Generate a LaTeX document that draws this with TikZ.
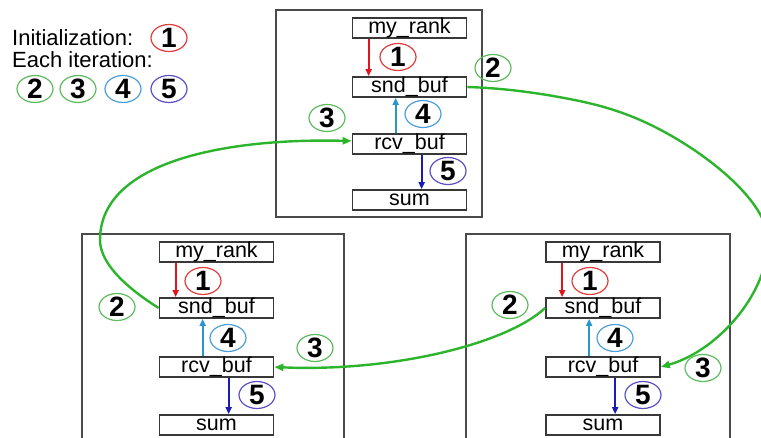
\documentclass[tikz,border=0pt]{standalone}
\usepackage{fontspec}
\setmainfont{Liberation Sans}
\usetikzlibrary{arrows.meta,shapes.geometric}

\definecolor{boxgray}{HTML}{383838}
\definecolor{framegray}{HTML}{4A4A4A}
\definecolor{linkgreen}{HTML}{2CB52C}
\definecolor{ringgreen}{HTML}{5DBB5D}
\definecolor{ringred}{HTML}{E03C3C}
\definecolor{ringblue}{HTML}{4C9ED6}
\definecolor{ringpurple}{HTML}{5A50C4}
\definecolor{arrred}{HTML}{E4141C}
\definecolor{arrlight}{HTML}{2A96CA}
\definecolor{arrdark}{HTML}{1A1AB4}

\begin{document}
\begin{tikzpicture}[x=1pt,y=-1pt,
  frame/.style={draw=framegray, line width=1.4pt},
  buf/.style={draw=boxgray, line width=1.7pt, minimum width=114pt,
    minimum height=20pt, inner sep=0pt, text height=16pt, text depth=4pt,
    font=\fontsize{21.5}{25}\selectfont},
  num/.style={ellipse, draw=#1, line width=1.2pt, minimum width=36pt,
    minimum height=27pt, inner xsep=0pt, inner ysep=-2pt,
    font=\fontsize{28}{30}\selectfont\bfseries},
  legend/.style={anchor=west, inner sep=0pt, text height=15.8pt, text depth=0pt,
    font=\fontsize{22}{25}\selectfont},
  inarrow/.style={line width=1.8pt, draw=#1, -{Triangle[length=7pt,width=6pt]}},
  link/.style={draw=linkgreen, line width=2.4pt, -{Triangle[length=9pt,width=7pt]}}
]
\useasboundingbox (0,0) rectangle (761,438);
\clip (0,0) rectangle (761,438);

% legend
\node[legend] (init) at (12,38) {Initialization:};
\node[num=ringred] (L1) at (169,38) {1};
\node[legend] (iter) at (12,60) {Each iteration:};
\node[num=ringgreen]  (L2) at (35,89)  {2};
\node[num=ringgreen]  (L3) at (78,89)  {3};
\node[num=ringblue]   (L4) at (123,89) {4};
\node[num=ringpurple] (L5) at (169,89) {5};

% process frames
\draw[frame] (276,10) rectangle (482,217);
\draw[frame] (82,234) rectangle (344,450);
\draw[frame] (466,234) rectangle (730,450);

% top process
\node[buf] (tRank) at (409.5,28)  {my\_rank};
\node[buf] (tSnd)  at (409.5,87)  {snd\_buf};
\node[buf] (tRcv)  at (409.5,144) {rcv\_buf};
\node[buf] (tSum)  at (409.5,200) {sum};

% left process
\node[buf] (lRank) at (216.5,252) {my\_rank};
\node[buf] (lSnd)  at (216.5,308) {snd\_buf};
\node[buf] (lRcv)  at (216.5,367) {rcv\_buf};
\node[buf] (lSum)  at (216.5,425) {sum};

% right process
\node[buf] (rRank) at (603,252) {my\_rank};
\node[buf] (rSnd)  at (603,308) {snd\_buf};
\node[buf] (rRcv)  at (603,367) {rcv\_buf};
\node[buf] (rSum)  at (603,425) {sum};

% local steps inside each process
\foreach \p in {t,l,r}{
  \draw[inarrow=arrred]   ([xshift=17pt]\p Rank.south west) -- ([xshift=17pt]\p Snd.north west);
  \draw[inarrow=arrlight] ([xshift=44pt]\p Rcv.north west)  -- ([xshift=44pt]\p Snd.south west);
  \draw[inarrow=arrdark]  ([xshift=70pt]\p Rcv.south west)  -- ([xshift=70pt]\p Sum.north west);
}

% step numbers, top process
\node[num=ringred]    (t1) at (398,57)  {1};
\node[num=ringgreen]  (t2) at (493,68)  {2};
\node[num=ringgreen]  (t3) at (327,118) {3};
\node[num=ringblue]   (t4) at (423,114) {4};
\node[num=ringpurple] (t5) at (448,171) {5};

% step numbers, left process
\node[num=ringred]    (l1) at (203,281) {1};
\node[num=ringgreen]  (l2) at (117,307) {2};
\node[num=ringgreen]  (l3) at (315,348) {3};
\node[num=ringblue]   (l4) at (228,338) {4};
\node[num=ringpurple] (l5) at (257,395) {5};

% step numbers, right process
\node[num=ringred]    (r1) at (590,281) {1};
\node[num=ringgreen]  (r2) at (510,305) {2};
\node[num=ringgreen]  (r3) at (703,368) {3};
\node[num=ringblue]   (r4) at (615,338) {4};
\node[num=ringpurple] (r5) at (643,395) {5};

% ring communication: snd_buf -> neighbour's rcv_buf
\draw[link] (tSnd.east) .. controls (500,88) and (530,92) .. (553,96)
  .. controls (580,100.7) and (605,105.7) .. (633,117)
  .. controls (690,140) and (765,195) .. (768,238)
  .. controls (770,290) and (720,350) .. (rRcv.east);
\draw[link] (rSnd.west) .. controls (505,345) and (390,372) .. (lRcv.east);
\draw[link] (lSnd.west) .. controls (130,290) and (100,265) .. (100,240)
  .. controls (100,160) and (230,138) .. ([yshift=3pt]tRcv.west);
\end{tikzpicture}
\end{document}
